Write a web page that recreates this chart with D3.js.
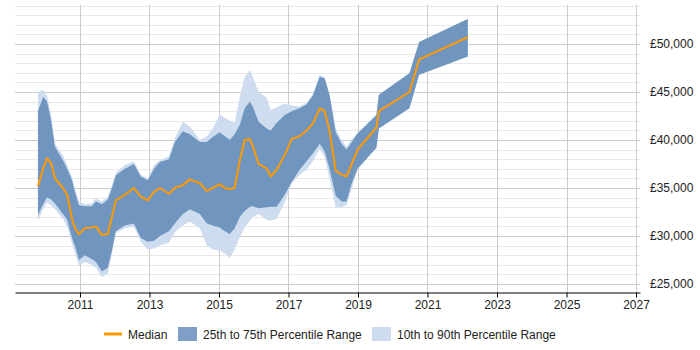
<!DOCTYPE html>
<html>
<head>
<meta charset="utf-8">
<script src="https://cdn.jsdelivr.net/npm/d3@7"></script>
<style>
  body { margin: 0; background: #fff; }
  text { font-family: "Liberation Sans", Arial, sans-serif; }
</style>
</head>
<body>
<div id="chart"></div>
<script>
// Data (salary values in £ thousands, dates as decimal years)
var years = [2009.79, 2009.94, 2010.05, 2010.17, 2010.28, 2010.51, 2010.63, 2010.77, 2010.86, 2010.97,
  2011.14, 2011.34, 2011.46, 2011.63, 2011.80, 2011.92, 2012.03, 2012.29, 2012.55, 2012.75,
  2012.95, 2013.13, 2013.30, 2013.56, 2013.73, 2013.96, 2014.16, 2014.45, 2014.65, 2014.82,
  2015.02, 2015.17, 2015.31, 2015.45, 2015.60, 2015.74, 2015.89, 2015.97, 2016.14, 2016.37,
  2016.49, 2016.66, 2016.89, 2017.09, 2017.32, 2017.52, 2017.70, 2017.90, 2018.04, 2018.18,
  2018.36, 2018.53, 2018.67, 2018.82, 2018.99, 2019.53, 2019.60, 2020.48, 2020.76, 2022.16];

var median = [35.2, 37.0, 38.1, 37.6, 36.0, 35.0, 34.3, 31.8, 30.8, 30.2,
  30.8, 30.9, 31.0, 30.1, 30.2, 32.0, 33.7, 34.3, 35.0, 34.1,
  33.7, 34.6, 35.0, 34.4, 35.0, 35.3, 35.9, 35.5, 34.7, 35.0,
  35.4, 35.0, 34.9, 35.0, 37.9, 40.0, 40.1, 39.4, 37.5, 37.05,
  36.2, 36.9, 38.4, 40.1, 40.4, 41.0, 41.7, 43.3, 43.0, 41.0,
  36.8, 36.4, 36.2, 37.5, 39.0, 41.3, 43.0, 45.0, 48.4, 50.7];

var p25 = [32.2, 33.3, 34.0, 33.8, 33.4, 32.3, 31.7, 29.8, 28.9, 27.5,
  28.0, 27.6, 27.3, 26.3, 26.7, 28.5, 30.5, 31.1, 31.3, 29.8,
  29.4, 29.5, 30.0, 30.5, 31.3, 32.3, 32.8, 32.3, 31.3, 31.1,
  30.9, 30.5, 30.2, 30.8, 32.0, 32.6, 33.05, 33.1, 32.9, 33.0,
  33.05, 33.05, 34.3, 35.6, 36.9, 37.8, 38.6, 39.6, 38.8, 37.0,
  34.2, 33.6, 33.6, 35.5, 37.0, 39.2, 41.2, 43.3, 46.8, 48.7];

var p75 = [43.0, 44.5, 44.0, 42.0, 39.3, 37.9, 37.0, 35.8, 34.5, 33.2,
  33.1, 33.1, 33.6, 33.3, 33.8, 35.0, 36.3, 37.0, 37.5, 36.2,
  35.8, 37.0, 37.7, 38.0, 39.8, 40.9, 40.6, 39.8, 39.8, 40.3,
  40.8, 40.4, 40.0, 40.6, 41.6, 43.3, 44.0, 43.5, 41.9, 41.2,
  41.0, 41.8, 42.6, 43.0, 43.3, 43.7, 44.6, 46.6, 46.4, 44.7,
  40.8, 39.6, 39.0, 39.8, 40.7, 42.6, 44.7, 46.95, 50.2, 52.6];

var p10 = [31.6, 32.8, 33.5, 33.2, 32.8, 31.8, 31.0, 29.2, 28.2, 26.9,
  27.3, 27.0, 26.7, 25.7, 26.1, 28.2, 30.3, 30.8, 31.0, 29.4,
  28.6, 28.7, 29.0, 29.3, 30.4, 31.1, 31.5, 30.8, 29.0, 28.6,
  28.5, 28.2, 27.7, 28.6, 29.9, 30.9, 31.6, 32.0, 32.3, 31.7,
  31.6, 31.8, 33.5, 35.5, 36.35, 36.9, 37.8, 39.1, 38.2, 36.0,
  33.0, 33.0, 33.2, 34.9, 37.0, 39.2, 41.2, 43.3, 46.8, 48.7];

var p90 = [45.0, 45.2, 44.6, 42.6, 39.6, 38.4, 37.4, 36.2, 34.9, 33.6,
  33.3, 33.4, 33.9, 33.6, 34.1, 35.3, 36.6, 37.4, 37.8, 36.4,
  36.0, 37.4, 37.9, 38.3, 40.2, 41.9, 41.4, 40.0, 40.4, 41.2,
  42.6, 42.3, 42.0, 41.8, 44.5, 46.6, 47.3, 46.6, 45.0, 44.4,
  43.1, 43.4, 43.8, 43.6, 43.5, 43.9, 44.8, 46.8, 46.5, 44.8,
  41.2, 40.0, 39.3, 40.1, 40.7, 42.6, 44.7, 46.95, 50.2, 52.6];

var xTicks = [2011, 2013, 2015, 2017, 2019, 2021, 2023, 2025, 2027];
var yTicks = [25, 30, 35, 40, 45, 50];
var legendLabels = ["Median", "25th to 75th Percentile Range", "10th to 90th Percentile Range"];

// Set up space
var svgWidth = 700;
var svgHeight = 350;
var plot = { left: 15, right: 640, top: 5, bottom: 292 };

var svg = d3.select("#chart")
  .append("svg")
  .attr("width", svgWidth)
  .attr("height", svgHeight);

var rows = years.map(function(yr, i) {
  return { year: yr, median: median[i], p25: p25[i], p75: p75[i], p10: p10[i], p90: p90[i] };
});

// Scales
var xScale = d3.scaleLinear()
  .domain([2009.13, 2027.115])
  .range([plot.left, plot.right]);
var yScale = d3.scaleLinear()
  .domain([24.17, 54.06])
  .range([plot.bottom, plot.top]);

// Gridlines
var gridGroup = svg.append("g");
gridGroup.selectAll(".hgrid")
  .data(d3.range(25, 55, 1))
  .enter()
  .append("line")
    .attr("x1", plot.left)
    .attr("x2", plot.right)
    .attr("y1", d => Math.round(yScale(d)) + 0.5)
    .attr("y2", d => Math.round(yScale(d)) + 0.5)
    .attr("stroke", d => d % 5 === 0 ? "#cccccc" : "#e8e8e8")
    .attr("stroke-width", 1);

gridGroup.selectAll(".vgrid")
  .data(xTicks)
  .enter()
  .append("line")
    .attr("x1", d => Math.round(xScale(d)) + 0.5)
    .attr("x2", d => Math.round(xScale(d)) + 0.5)
    .attr("y1", plot.top)
    .attr("y2", plot.bottom)
    .attr("stroke", "#cccccc")
    .attr("stroke-width", 1);

// Bands and median line
var outerArea = d3.area()
  .x(d => xScale(d.year))
  .y0(d => yScale(d.p10))
  .y1(d => yScale(d.p90));
var innerArea = d3.area()
  .x(d => xScale(d.year))
  .y0(d => yScale(d.p25))
  .y1(d => yScale(d.p75));
var medianLine = d3.line()
  .x(d => xScale(d.year))
  .y(d => yScale(d.median));

svg.append("path")
  .datum(rows)
  .attr("d", outerArea)
  .attr("fill", "#cddcee");

svg.append("path")
  .datum(rows)
  .attr("d", innerArea)
  .attr("fill", "#7096bf");

svg.append("path")
  .datum(rows)
  .attr("d", medianLine)
  .attr("fill", "none")
  .attr("stroke", "#ff9900")
  .attr("stroke-width", 2)
  .attr("stroke-linejoin", "round");

// Axes
var bottomAxis = d3.axisBottom(xScale)
  .tickValues(xTicks)
  .tickFormat(d3.format("d"))
  .tickSize(5)
  .tickSizeOuter(0)
  .tickPadding(3);

var xAxisGroup = svg.append("g")
  .attr("transform", `translate(0, ${plot.bottom + 0.5})`)
  .call(bottomAxis);
xAxisGroup.selectAll("text")
  .attr("font-size", 12)
  .attr("font-family", "'Liberation Sans', Arial, sans-serif")
  .attr("fill", "#222");
xAxisGroup.select(".domain").attr("stroke", "#000");

var rightAxis = d3.axisRight(yScale)
  .tickValues(yTicks)
  .tickFormat(d => "£" + d3.format(",")(d * 1000))
  .tickSize(0)
  .tickPadding(10);

var yAxisGroup = svg.append("g")
  .attr("transform", `translate(${plot.right}, 0)`)
  .call(rightAxis);
yAxisGroup.select(".domain").remove();
yAxisGroup.selectAll("text")
  .attr("font-size", 12)
  .attr("font-family", "'Liberation Sans', Arial, sans-serif")
  .attr("fill", "#222");

// Legend
var legend = svg.append("g").attr("font-size", 12).attr("fill", "#222");

legend.append("line")
  .attr("x1", 104).attr("x2", 122)
  .attr("y1", 334).attr("y2", 334)
  .attr("stroke", "#ff9900")
  .attr("stroke-width", 3);
legend.append("text").attr("x", 128).attr("y", 338.5).text(legendLabels[0]);

legend.append("rect")
  .attr("x", 178).attr("y", 327)
  .attr("width", 19).attr("height", 14)
  .attr("fill", "#7f9fc6");
legend.append("text").attr("x", 203).attr("y", 338.5).text(legendLabels[1]);

legend.append("rect")
  .attr("x", 372).attr("y", 327)
  .attr("width", 19).attr("height", 14)
  .attr("fill", "#cddcee");
legend.append("text").attr("x", 397).attr("y", 338.5).text(legendLabels[2]);
</script>
</body>
</html>
